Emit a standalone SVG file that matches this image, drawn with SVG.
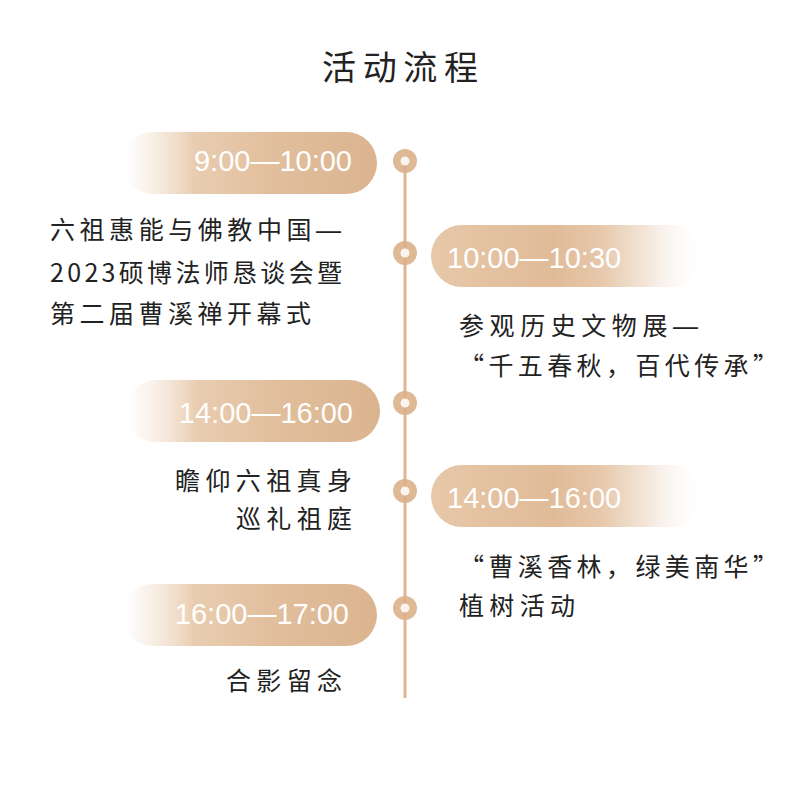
<svg xmlns="http://www.w3.org/2000/svg" width="796" height="803" viewBox="0 0 796 803">
<defs>
<linearGradient id="gl" x1="0" y1="0" x2="1" y2="0">
<stop offset="0" stop-color="#ffffff" stop-opacity="0"/>
<stop offset="0.05" stop-color="#fbf4ee" stop-opacity="0.6"/>
<stop offset="0.28" stop-color="#e9cdb1"/>
<stop offset="0.6" stop-color="#e1be9c"/>
<stop offset="1" stop-color="#dbb48f"/>
</linearGradient>
<linearGradient id="gr" x1="0" y1="0" x2="1" y2="0">
<stop offset="0" stop-color="#e7c8a9"/>
<stop offset="0.45" stop-color="#e0bb98"/>
<stop offset="0.62" stop-color="#e6c7aa"/>
<stop offset="0.82" stop-color="#f6ebe1"/>
<stop offset="1" stop-color="#ffffff" stop-opacity="0"/>
</linearGradient>
<style>
.title{font-family:"Noto Sans CJK SC","Noto Sans",sans-serif;font-size:34px;fill:#222;}
.t{font-family:"Noto Sans CJK SC","Noto Sans",sans-serif;font-size:25px;fill:#222;}
.d{font-family:"Liberation Sans",Arial,sans-serif;}
.time{font-family:"Liberation Sans",Arial,sans-serif;font-size:29px;fill:#ffffff;}
.end{text-anchor:end;}
.dot{fill:#dcb08a;opacity:0.9;}
.inner{fill:#ffffff;opacity:0.85;}
</style>
</defs>
<rect width="796" height="803" fill="#ffffff"/>
<text class="title" x="322" y="80" textLength="156" lengthAdjust="spacing">活动流程</text>
<g id="connectors">
<line x1="405" y1="161" x2="405" y2="698" stroke="#dfb691" stroke-width="3"/>
</g>
<g id="dots">
<circle class="dot" cx="405" cy="161" r="12"/><circle class="inner" cx="405" cy="161" r="4.5"/>
<circle class="dot" cx="405" cy="253" r="12"/><circle class="inner" cx="405" cy="253" r="4.5"/>
<circle class="dot" cx="405" cy="403" r="12"/><circle class="inner" cx="405" cy="403" r="4.5"/>
<circle class="dot" cx="405" cy="491" r="12"/><circle class="inner" cx="405" cy="491" r="4.5"/>
<circle class="dot" cx="405" cy="608" r="12"/><circle class="inner" cx="405" cy="608" r="4.5"/>
</g>
<g id="node1">
<rect x="122" y="132" width="255" height="62" rx="31" fill="url(#gl)"/>
<text class="time end" x="352" y="171">9:00—10:00</text>
<text class="t" x="50" y="239" textLength="291" lengthAdjust="spacing">六祖惠能与佛教中国<tspan class="d">—</tspan></text>
<text class="t" x="50" y="282" textLength="292" lengthAdjust="spacing">2023硕博法师恳谈会暨</text>
<text class="t" x="50" y="323" textLength="261" lengthAdjust="spacing">第二届曹溪禅开幕式</text>
</g>
<g id="node2">
<rect x="431" y="225" width="272" height="62" rx="31" fill="url(#gr)"/>
<text class="time" x="447" y="268">10:00—10:30</text>
<text class="t" x="459" y="335" textLength="239" lengthAdjust="spacing">参观历史文物展<tspan class="d">—</tspan></text>
<text class="t" x="459" y="375" textLength="319" lengthAdjust="spacing">“千五春秋，百代传承”</text>
</g>
<g id="node3">
<rect x="125" y="380" width="255" height="62" rx="31" fill="url(#gl)"/>
<text class="time end" x="353" y="423">14:00—16:00</text>
<text class="t" x="175" y="490" textLength="177" lengthAdjust="spacing">瞻仰六祖真身</text>
<text class="t" x="236" y="528" textLength="116" lengthAdjust="spacing">巡礼祖庭</text>
</g>
<g id="node4">
<rect x="431" y="465" width="272" height="62" rx="31" fill="url(#gr)"/>
<text class="time" x="447" y="508">14:00—16:00</text>
<text class="t" x="459" y="576" textLength="319" lengthAdjust="spacing">“曹溪香林，绿美南华”</text>
<text class="t" x="459" y="615" textLength="116" lengthAdjust="spacing">植树活动</text>
</g>
<g id="node5">
<rect x="122" y="584" width="255" height="62" rx="31" fill="url(#gl)"/>
<text class="time end" x="349" y="624">16:00—17:00</text>
<text class="t" x="226" y="690" textLength="116" lengthAdjust="spacing">合影留念</text>
</g>
</svg>
